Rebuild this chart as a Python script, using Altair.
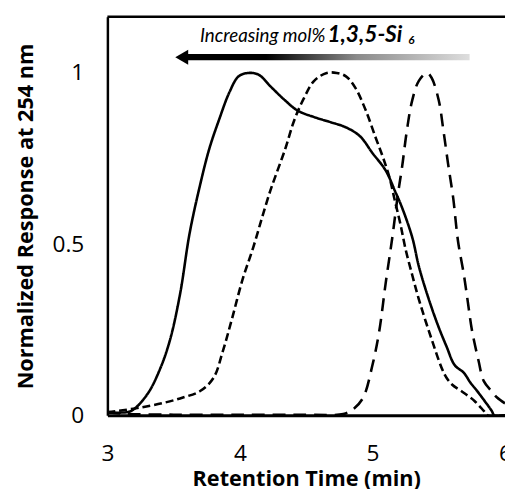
import altair as alt
import pandas as pd

# ---- data ----
solid_x = [3.00, 3.10, 3.18, 3.30, 3.40, 3.475, 3.55, 3.62, 3.70, 3.77, 3.845, 3.92, 3.99, 4.066,
           4.14, 4.24, 4.34, 4.435, 4.56, 4.685, 4.80, 4.906, 5.00, 5.10, 5.17, 5.22, 5.30, 5.35,
           5.42, 5.495, 5.56, 5.62, 5.69, 5.74, 5.79, 5.85, 5.90, 5.92, 6.00]
solid_y = [0.008, 0.008, 0.013, 0.061, 0.138, 0.224, 0.358, 0.531, 0.674, 0.78, 0.866, 0.943, 0.99, 1.0,
           0.995, 0.957, 0.92, 0.89, 0.871, 0.856, 0.841, 0.815, 0.766, 0.715, 0.655, 0.61, 0.52, 0.435,
           0.345, 0.262, 0.20, 0.147, 0.124, 0.095, 0.071, 0.04, 0.013, 0.0, 0.0]

short_x = [3.00, 3.08, 3.25, 3.43, 3.57, 3.70, 3.80, 3.87, 3.94, 4.02, 4.10, 4.165, 4.22, 4.26, 4.34,
           4.41, 4.485, 4.56, 4.655, 4.73, 4.80, 4.87, 4.95, 5.025, 5.077, 5.128, 5.17, 5.21, 5.25,
           5.30, 5.35, 5.445, 5.545, 5.60, 5.67, 5.77, 5.84, 5.87, 6.00]
short_y = [0.01, 0.013, 0.023, 0.037, 0.052, 0.071, 0.109, 0.186, 0.282, 0.397, 0.49, 0.575, 0.645, 0.69, 0.776,
           0.862, 0.928, 0.977, 1.0, 1.0, 0.99, 0.957, 0.89, 0.81, 0.756, 0.695, 0.625, 0.56, 0.485,
           0.41, 0.339, 0.224, 0.119, 0.09, 0.071, 0.042, 0.013, 0.0, 0.0]

long_x = [3.00, 3.10, 3.50, 4.00, 4.50, 4.78, 4.855, 4.93, 5.00, 5.05, 5.10, 5.15, 5.19, 5.224, 5.26,
          5.30, 5.35, 5.41, 5.446, 5.50, 5.535, 5.57, 5.61, 5.645, 5.69, 5.72, 5.75, 5.80, 5.84,
          5.90, 5.94, 6.00]
long_y = [0.01, 0.005, 0.002, 0.002, 0.002, 0.004, 0.018, 0.052, 0.147, 0.243, 0.387, 0.52, 0.64, 0.727, 0.833,
          0.92, 0.977, 1.0, 0.986, 0.92, 0.833, 0.736, 0.632, 0.51, 0.41, 0.33, 0.25, 0.16, 0.10,
          0.07, 0.052, 0.035]

series_names = ["A", "B", "C"]
dash_patterns = [[1, 0], [8, 4], [13, 8]]

x_ticks = [3, 4, 5, 6]
y_ticks = [0, 0.5, 1]

# annotation (arrow + label) in data units
arrow_tip_x = [3.561]
arrow_bar_x = [3.60]
arrow_bar_x2 = [5.733]
arrow_y = [1.046]
arrow_y_lo = [1.037]
arrow_y_hi = [1.055]
label_parts = ["Increasing mol% ", "1,3,5-Si", "6"]
label_x = [3.698, 4.66, 5.27]
label_y = [1.109, 1.109, 1.096]

rows = []
for name, xs, ys in [("A", solid_x, solid_y), ("B", short_x, short_y), ("C", long_x, long_y)]:
    for a, b in zip(xs, ys):
        rows.append({"series": name, "time": a, "resp": b})
df = pd.DataFrame(rows)

AX_FONT = "Open Sans"
ANN_FONT = "Lato"
W, H = 404, 405
x_scale = alt.Scale(domain=[3, 6], nice=False, zero=False)
y_scale = alt.Scale(domain=[0, 1.164], nice=False, zero=True)

x_enc = alt.X("time:Q", scale=x_scale, title="Retention Time (min)",
              axis=alt.Axis(values=x_ticks, format="d", labelFlush=False, ticks=False, tickSize=0,
                            grid=False, domainColor="black", domainWidth=3, labelPadding=28,
                            labelFont=AX_FONT, labelFontSize=23, labelColor="black",
                            titleFont=AX_FONT, titleFontSize=22, titleFontWeight="bold",
                            titleColor="black", titlePadding=3))
y_enc = alt.Y("resp:Q", scale=y_scale, title="Normalized Response at 254 nm",
              axis=alt.Axis(values=y_ticks, format="~g", labelFlush=False, ticks=False, tickSize=0,
                            grid=False, domainColor="black", domainWidth=2.5, labelPadding=24,
                            labelFont=AX_FONT, labelFontSize=23, labelColor="black",
                            titleFont=AX_FONT, titleFontSize=22, titleFontWeight="bold",
                            titleColor="black", titlePadding=15))

lines = alt.Chart(df).mark_line(color="black", strokeWidth=2.6, clip=True,
                                interpolate="catmull-rom").encode(
    x=x_enc,
    y=y_enc,
    strokeDash=alt.StrokeDash("series:N", scale=alt.Scale(domain=series_names, range=dash_patterns),
                              legend=None),
    detail="series:N",
)

top_rule = alt.Chart(pd.DataFrame({"v": [0]})).mark_rule(color="black", strokeWidth=2.5).encode(
    x=alt.value(0), x2=alt.value(W), y=alt.value(0))

bar_df = pd.DataFrame({"x": arrow_bar_x, "x2": arrow_bar_x2, "y": arrow_y_lo, "y2": arrow_y_hi})
grad = alt.LinearGradient(gradient="linear", x1=0, x2=1, y1=0, y2=0,
                          stops=[alt.GradientStop(color="#000000", offset=0),
                                 alt.GradientStop(color="#000000", offset=0.28),
                                 alt.GradientStop(color="#8a8a8a", offset=0.6),
                                 alt.GradientStop(color="#dedede", offset=1)])
bar = alt.Chart(bar_df).mark_rect(fill=grad, strokeWidth=0).encode(
    x=alt.X("x:Q", scale=x_scale), x2="x2:Q",
    y=alt.Y("y:Q", scale=y_scale), y2="y2:Q")

head_df = pd.DataFrame({"x": arrow_tip_x, "y": arrow_y})
head = alt.Chart(head_df).mark_point(shape="triangle-left", filled=True, size=230,
                                     color="black", opacity=1).encode(
    x=alt.X("x:Q", scale=x_scale), y=alt.Y("y:Q", scale=y_scale))

lab_df = pd.DataFrame({"t": label_parts, "x": label_x, "y": label_y})
t1 = alt.Chart(lab_df.iloc[[0]]).mark_text(font=ANN_FONT, fontSize=19, fontStyle="italic",
                                          align="left", baseline="middle", color="black").encode(
    x=alt.X("x:Q", scale=x_scale), y=alt.Y("y:Q", scale=y_scale), text="t:N")
t2 = alt.Chart(lab_df.iloc[[1]]).mark_text(font=ANN_FONT, fontSize=23, fontStyle="italic",
                                          fontWeight="bold", align="left", baseline="middle",
                                          color="black").encode(
    x=alt.X("x:Q", scale=x_scale), y=alt.Y("y:Q", scale=y_scale), text="t:N")
t3 = alt.Chart(lab_df.iloc[[2]]).mark_text(font=ANN_FONT, fontSize=12, fontStyle="italic",
                                          fontWeight="bold", align="left", baseline="middle",
                                          color="black").encode(
    x=alt.X("x:Q", scale=x_scale), y=alt.Y("y:Q", scale=y_scale), text="t:N")

chart = alt.layer(lines, top_rule, bar, head, t1, t2, t3).properties(
    width=W, height=H,
    autosize=alt.AutoSizeParams(type="none"),
    padding={"left": 101, "top": 5, "right": 0, "bottom": 76},
).configure_view(stroke=None).configure(background="white")

chart.save("out.html", embed_options={"renderer": "svg", "actions": False})
